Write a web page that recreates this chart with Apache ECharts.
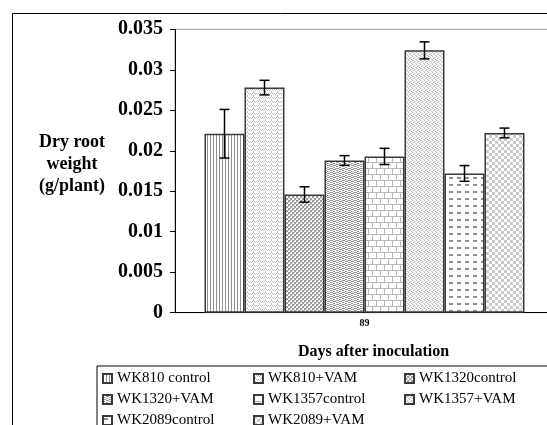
<!DOCTYPE html>
<html>
<head>
<meta charset="utf-8">
<script src="https://cdn.jsdelivr.net/npm/echarts@6/dist/echarts.min.js"></script>
<style>
  html, body { margin: 0; padding: 0; background: #fff; }
  #chart { width: 547px; height: 425px; }
</style>
</head>
<body>
<div id="chart"></div>
<script>
// Dry root weight at 89 days after inoculation
const categories = ['89'];
const seriesNames = [
  'WK810 control', 'WK810+VAM', 'WK1320control', 'WK1320+VAM',
  'WK1357control', 'WK1357+VAM', 'WK2089control', 'WK2089+VAM'
];
const meanValues = [0.0221, 0.0278, 0.0146, 0.0188, 0.0193, 0.0324, 0.0172, 0.0222];
const errorValues = [0.0030, 0.0009, 0.00095, 0.0006, 0.0010, 0.00105, 0.00097, 0.0006];
const yTicks = { min: 0, max: 0.035, step: 0.005 };

const FONT = 'Liberation Serif, Times New Roman, serif';
const BAR_WIDTH = 40;

// Small tiled fills used as hatch patterns
function makePattern(w, h, draw) {
  const c = document.createElement('canvas');
  c.width = w; c.height = h;
  const ctx = c.getContext('2d');
  ctx.fillStyle = '#fff';
  ctx.fillRect(0, 0, w, h);
  draw(ctx);
  return { image: c, repeat: 'repeat' };
}
function px(ctx, color, pts) {
  ctx.fillStyle = color;
  pts.forEach(p => ctx.fillRect(p[0], p[1], p[2] || 1, p[3] || 1));
}

const patterns = [
  // vertical stripes
  makePattern(3, 1, ctx => px(ctx, '#8e8e8e', [[0, 0]])),
  // light zigzag
  makePattern(6, 4, ctx => px(ctx, '#c2c2c2', [[0, 1], [1, 0], [2, 1], [3, 2], [4, 1], [5, 2], [1, 3]])),
  // medium check
  makePattern(4, 4, ctx => {
    px(ctx, '#9c9c9c', [[0, 0, 2, 2], [2, 2, 2, 2]]);
    px(ctx, '#d0d0d0', [[2, 0, 1, 1], [0, 2, 1, 1]]);
  }),
  // wavy weave
  makePattern(6, 4, ctx => {
    px(ctx, '#9a9a9a', [[0, 0, 3, 1], [3, 1, 3, 1], [0, 2, 2, 1], [3, 3, 2, 1]]);
    px(ctx, '#cfcfcf', [[5, 0], [2, 2]]);
  }),
  // brick
  makePattern(8, 12, ctx => {
    px(ctx, '#b8b8b8', [[0, 0, 8, 1], [0, 1, 1, 5], [0, 6, 8, 1], [4, 7, 1, 5]]);
  }),
  // light speckle
  makePattern(4, 4, ctx => {
    px(ctx, '#bcbcbc', [[0, 0], [2, 1], [1, 2], [3, 3]]);
    px(ctx, '#dedede', [[1, 0], [3, 1], [0, 3], [2, 2]]);
  }),
  // short dashes
  makePattern(8, 7, ctx => px(ctx, '#8f8f8f', [[1, 2, 4, 2]])),
  // light checkerboard
  makePattern(6, 6, ctx => px(ctx, '#cacaca', [[0, 0, 3, 3], [3, 3, 3, 3]]))
];

const barSeries = seriesNames.map((name, i) => ({
  name: name,
  type: 'bar',
  data: [meanValues[i]],
  barWidth: BAR_WIDTH,
  barGap: '0%',
  itemStyle: { color: patterns[i], borderColor: '#3a3a3a', borderWidth: 1.5 },
  emphasis: { disabled: true }
}));

const errorData = meanValues.map((v, i) => [0, v - errorValues[i], v + errorValues[i], i]);

const errorSeries = {
  type: 'custom',
  name: 'error',
  data: errorData,
  encode: { x: 0, y: [1, 2] },
  z: 10,
  renderItem: function (params, api) {
    const idx = api.value(3);
    const lowPt = api.coord([api.value(0), api.value(1)]);
    const highPt = api.coord([api.value(0), api.value(2)]);
    const x = lowPt[0] + (idx - (seriesNames.length - 1) / 2) * BAR_WIDTH;
    const cap = 5;
    const style = { stroke: '#000', lineWidth: 1.5, fill: null };
    return {
      type: 'group',
      children: [
        { type: 'line', shape: { x1: x, y1: lowPt[1], x2: x, y2: highPt[1] }, style: style },
        { type: 'line', shape: { x1: x - cap, y1: lowPt[1], x2: x + cap, y2: lowPt[1] }, style: style },
        { type: 'line', shape: { x1: x - cap, y1: highPt[1], x2: x + cap, y2: highPt[1] }, style: style }
      ]
    };
  }
};

const chart = echarts.init(document.getElementById('chart'), null, { renderer: 'canvas' });

chart.setOption({
  animation: false,
  backgroundColor: '#fff',
  title: {
    text: 'Dry root\nweight\n(g/plant)',
    left: 67,
    top: 126,
    textAlign: 'center',
    textStyle: {
      fontFamily: FONT, fontWeight: 'bold', fontSize: 18, lineHeight: 22, color: '#000', align: 'center'
    }
  },
  graphic: [
    {
      type: 'rect',
      shape: { x: 12.5, y: 13.5, width: 620, height: 500 },
      style: { fill: null, stroke: '#000', lineWidth: 1 },
      silent: true,
      z: -1
    }
  ],
  grid: {
    left: 175, right: -7, top: 29.3, bottom: 112.3,
    outerBoundsMode: 'none',
    containLabel: false,
    show: true, borderColor: '#9a9a9a', borderWidth: 1, backgroundColor: 'transparent'
  },
  legend: {
    data: seriesNames,
    left: 97,
    top: 366,
    width: 450,
    orient: 'horizontal',
    icon: 'rect',
    itemWidth: 9,
    itemHeight: 9,
    itemGap: 6,
    padding: [5, 0, 10, 5],
    borderColor: '#000',
    borderWidth: 1,
    selectedMode: false,
    textStyle: {
      fontFamily: FONT, fontSize: 15, color: '#000', width: 130, lineHeight: 14.5, overflow: 'none'
    }
  },
  xAxis: {
    type: 'category',
    data: categories,
    name: 'Days after inoculation',
    nameLocation: 'middle',
    nameGap: 31,
    nameTextStyle: { fontFamily: FONT, fontWeight: 'bold', fontSize: 16, color: '#000', padding: [0, 0, 0, 18] },
    axisLine: { lineStyle: { color: '#000', width: 1 } },
    axisTick: { show: false },
    axisLabel: { fontFamily: FONT, fontWeight: 'bold', fontSize: 10, color: '#000', margin: 6 }
  },
  yAxis: {
    type: 'value',
    min: yTicks.min,
    max: yTicks.max,
    interval: yTicks.step,
    axisLine: { show: true, lineStyle: { color: '#000', width: 1 } },
    axisTick: { show: true, length: 5, lineStyle: { color: '#000' } },
    splitLine: { show: false },
    axisLabel: {
      fontFamily: FONT, fontWeight: 'bold', fontSize: 20, color: '#000', margin: 12
    }
  },
  series: barSeries.concat([errorSeries])
});
</script>
</body>
</html>
